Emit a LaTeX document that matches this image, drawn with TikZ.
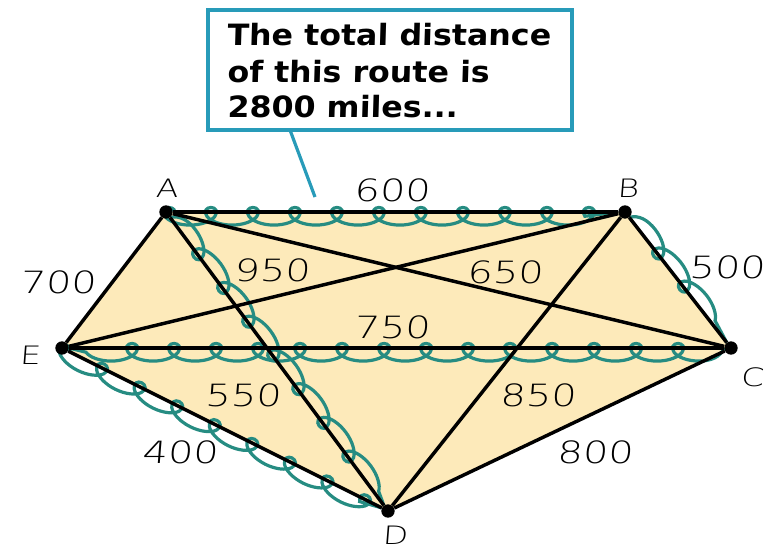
\documentclass[tikz,border=0pt]{standalone}
\usepackage{fontspec}
\usetikzlibrary{decorations.pathmorphing}
\newfontfamily\boxfont[FakeStretch=1.08,FakeSlant=0.03]{DejaVu Sans Bold}
\newfontfamily\labfont[FakeStretch=1.3,FakeSlant=0.08]{DejaVu Sans ExtraLight}
\definecolor{fillc}{RGB}{253,234,186}
\definecolor{wavec}{RGB}{38,140,130}
\definecolor{boxc}{RGB}{40,155,185}
\pgfdeclarelayer{bg}
\pgfsetlayers{bg,main}
\tikzset{
  vertex/.style={circle, fill=black, inner sep=0pt, minimum size=10pt},
  edge/.style={draw=black, line width=2.6pt},
  wavebase/.style={draw=wavec, line width=2.4pt, decorate,
    decoration={coil, amplitude=6.6pt, segment length=31.5pt}},
  waveL/.style={wavebase, decoration={aspect=1.65, raise=3.2pt}},
  waveR/.style={wavebase, decoration={aspect=-1.65, raise=-3.2pt}},
  lab/.style={font=\labfont\fontsize{23pt}{26pt}\selectfont, inner sep=0pt},
  vlab/.style={font=\labfont\fontsize{19pt}{22pt}\selectfont, inner sep=0pt},
  callout/.style={draw=boxc, line width=2.4pt, fill=white, rectangle,
    minimum width=273pt, minimum height=90pt, inner sep=0pt},
  boxtext/.style={font=\boxfont\fontsize{22pt}{27pt}\selectfont, anchor=base west, inner sep=0pt},
  pointer/.style={draw=boxc, line width=2.4pt}
}
\begin{document}
\begin{tikzpicture}[x=0.75pt,y=-0.75pt]
\useasboundingbox (0,0) rectangle (777,550);
% vertices
\node[vertex] (A) at (166,212) {};
\node[vertex] (B) at (625,212) {};
\node[vertex] (C) at (731,348) {};
\node[vertex] (D) at (388,511) {};
\node[vertex] (E) at (62,348) {};
\begin{pgfonlayer}{bg}
\fill[fillc] (A.center) -- (B.center) -- (C.center) -- (D.center) -- (E.center) -- cycle;
% route 2800
\draw[waveR] (A) -- (B);
\draw[waveL] (B) -- (C);
\draw[waveL] (C) -- (E);
\draw[waveR] (E) -- (D);
\draw[waveL] (A) -- (D);
% all edges
\draw[edge] (A) -- (B);
\draw[edge] (A) -- (C);
\draw[edge] (A) -- (D);
\draw[edge] (A) -- (E);
\draw[edge] (B) -- (C);
\draw[edge] (B) -- (D);
\draw[edge] (B) -- (E);
\draw[edge] (C) -- (D);
\draw[edge] (C) -- (E);
\draw[edge] (D) -- (E);
\end{pgfonlayer}
% vertex labels
\node[vlab] (lA) at (167,188) {A};
\node[vlab] (lB) at (628,188) {B};
\node[vlab] (lC) at (752,377) {C};
\node[vlab] (lD) at (395,535) {D};
\node[vlab] (lE) at (30,355) {E};
% distances
\node[lab] (dAB) at (392,190) {600};
\node[lab] (dAD) at (272,270) {950};
\node[lab] (dBC) at (727,267) {500};
\node[lab] (dAE) at (58,282) {700};
\node[lab] (dEDl) at (243,395) {550};
\node[lab] (dED) at (180,452) {400};
\node[lab] (dBE) at (505,272) {650};
\node[lab] (dCE) at (392,327) {750};
\node[lab] (dBD) at (538,395) {850};
\node[lab] (dCD) at (595,452) {800};
% callout
\node[callout] (box) at (390,70) {};
\node[boxtext] (t1) at (227,45) {The total distance};
\node[boxtext] (t2) at (227,82) {of this route is};
\node[boxtext] (t3) at (227,117) {2800 miles...};
\coordinate (p1) at (290,130);
\coordinate (p2) at (315,197);
\draw[pointer] (p1) -- (p2);
\end{tikzpicture}
\end{document}
